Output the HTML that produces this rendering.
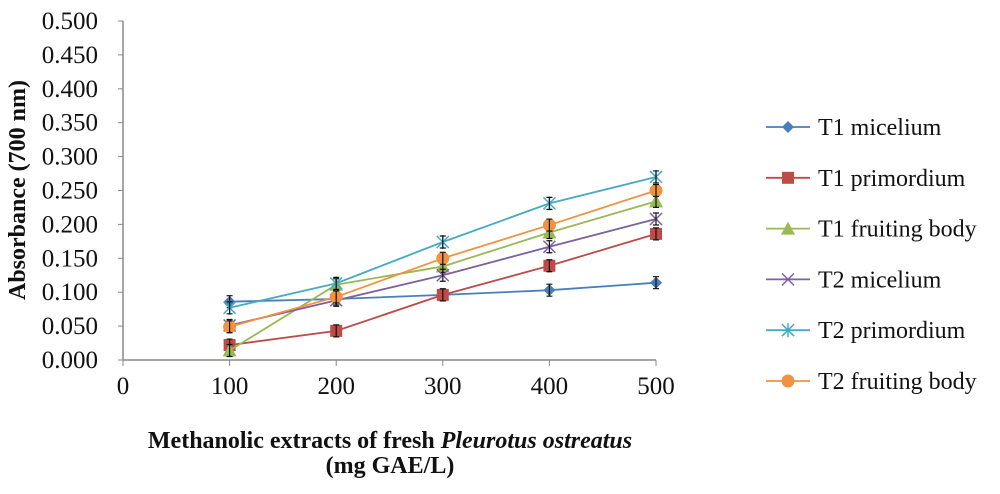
<!DOCTYPE html>
<html><head><meta charset="utf-8"><style>
body{margin:0;background:#fff;}
svg text{font-family:"Liberation Serif","Times New Roman",serif;fill:#111;}
</style></head><body>
<svg id="c" width="1000" height="489" xmlns="http://www.w3.org/2000/svg">
<g id="axes"></g><g id="plot"></g><g id="legend"></g>
<text x="390" y="448" text-anchor="middle" font-size="24" font-weight="bold">Methanolic extracts of fresh <tspan font-style="italic">Pleurotus ostreatus</tspan></text>
<text x="390" y="473" text-anchor="middle" font-size="24" font-weight="bold">(mg  GAE/L)</text>
<text transform="translate(25,190) rotate(-90)" text-anchor="middle" font-size="24" font-weight="bold">Absorbance  (700 nm)</text>
</svg>
<script>
const categories=[100,200,300,400,500];
const seriesNames=["T1 micelium","T1 primordium","T1 fruiting body","T2 micelium","T2 primordium","T2 fruiting body"];
const t1Micelium=[0.086,0.090,0.096,0.103,0.114];
const t1Primordium=[0.022,0.043,0.096,0.139,0.186];
const t1Fruiting=[0.014,0.111,0.138,0.188,0.234];
const t2Micelium=[0.051,0.088,0.125,0.167,0.208];
const t2Primordium=[0.077,0.113,0.174,0.231,0.270];
const t2Fruiting=[0.049,0.093,0.150,0.199,0.250];
const yTicks=["0.000","0.050","0.100","0.150","0.200","0.250","0.300","0.350","0.400","0.450","0.500"];
const xTicks=[0,100,200,300,400,500];
const colors=["#4a7ebb","#be4b48","#98b954","#7d60a0","#46aac5","#f19240"];
const markers=["diamond","square","triangle","x","star","circle"];
const allSeries=[t1Micelium,t1Primordium,t1Fruiting,t2Micelium,t2Primordium,t2Fruiting];
const NS="http://www.w3.org/2000/svg";
const X=v=>123+v*1.066, Y=v=>360-v*678;
function mk(tag,at,parent){const e=document.createElementNS(NS,tag);for(const k in at)e.setAttribute(k,at[k]);parent.appendChild(e);return e;}
const axes=document.getElementById('axes'),plot=document.getElementById('plot'),leg=document.getElementById('legend');
let a=mk('line',{x1:X(0),y1:Y(0),x2:X(0),y2:Y(0.5),stroke:'#888','stroke-width':1.5},axes);

a=mk('line',{x1:X(0),y1:Y(0),x2:X(500),y2:Y(0),stroke:'#888','stroke-width':1.5},axes);

yTicks.forEach(t=>{const v=parseFloat(t);
 mk('line',{x1:X(0)-5,x2:X(0),y1:Y(v),y2:Y(v),stroke:'#888'},axes);
 const e=mk('text',{x:98,y:Y(v)+8,'text-anchor':'end','font-size':25},axes);e.textContent=t;
 });
xTicks.forEach(t=>{
 mk('line',{x1:X(t),x2:X(t),y1:Y(0),y2:Y(0)+6,stroke:'#888'},axes);
 const e=mk('text',{x:X(t),y:394,'text-anchor':'middle','font-size':25},axes);e.textContent=t;
 });
function marker(type,x,y,c,p){
 if(type==='diamond')return mk('polygon',{points:`${x},${y-6} ${x+6},${y} ${x},${y+6} ${x-6},${y}`,fill:c},p);
 if(type==='square')return mk('rect',{x:x-6,y:y-6,width:12,height:12,fill:c},p);
 if(type==='triangle')return mk('polygon',{points:`${x},${y-7} ${x+7},${y+6} ${x-7},${y+6}`,fill:c},p);
 if(type==='circle')return mk('circle',{cx:x,cy:y,r:6.5,fill:c},p);
 const g=mk('g',{stroke:c,'stroke-width':1.5},p);
 mk('line',{x1:x-6,y1:y-6,x2:x+6,y2:y+6},g);mk('line',{x1:x-6,y1:y+6,x2:x+6,y2:y-6},g);
 if(type==='star')mk('line',{x1:x,y1:y-7,x2:x,y2:y+7},g);
 return g;}
allSeries.forEach((s,i)=>{
 const g=mk('g',{},plot);
 
 
 mk('polyline',{points:s.map((v,j)=>X(categories[j])+','+Y(v)).join(' '),fill:'none',stroke:colors[i],'stroke-width':1.8},g);
 s.forEach((v,j)=>{const m=marker(markers[i],X(categories[j]),Y(v),colors[i],g);
  
  const x=X(categories[j]),e=6;
  mk('path',{d:`M${x-3},${Y(v)-e}h6M${x},${Y(v)-e}v${2*e}M${x-3},${Y(v)+e}h6`,stroke:'#111','stroke-width':1.2,fill:'none'},g);});
 const ly=127+i*50.8;
 const lg=mk('g',{},leg);
 
 mk('line',{x1:766,x2:810,y1:ly,y2:ly,stroke:colors[i],'stroke-width':1.8},lg);
 marker(markers[i],788,ly,colors[i],lg);
 const t=mk('text',{x:818,y:ly+8,'font-size':24},lg);t.textContent=seriesNames[i];
});
</script>
</body></html>
